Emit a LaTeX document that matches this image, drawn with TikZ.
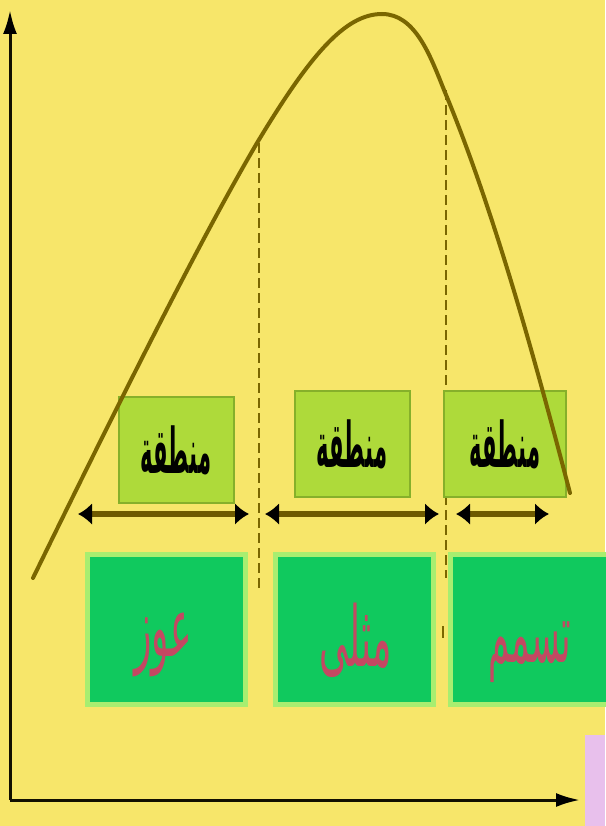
\documentclass[tikz,border=0pt]{standalone}
\usepackage{fontspec}
\usepackage{graphicx}
\usetikzlibrary{arrows.meta}
\TeXXeTstate=1
\newfontfamily\arabicfont[Script=Arabic]{DejaVu Sans}
\definecolor{bgyellow}{HTML}{F7E66A}
\definecolor{curvecol}{HTML}{7A6600}
\definecolor{zonefill}{HTML}{AEDA3A}
\definecolor{zoneedge}{HTML}{86B02A}
\definecolor{boxfill}{HTML}{10C95E}
\definecolor{boxedge}{HTML}{A8EE70}
\definecolor{wordred}{HTML}{C44862}
\definecolor{arrowcol}{HTML}{6E5A00}
\definecolor{pinkish}{HTML}{E8C0EC}
\newcommand{\zonetext}{\scalebox{0.62}[1.85]{\beginR منطقة\endR}}
\tikzset{
  zonebox/.style={draw=zoneedge, line width=2pt, fill=zonefill, minimum width=115pt, minimum height=106pt, inner sep=0pt,
    font=\arabicfont\bfseries\fontsize{34}{40}\selectfont, text=black},
  wordbox/.style={draw=boxedge, line width=5pt, fill=boxfill, minimum width=158pt, minimum height=150pt, inner sep=0pt},
  wordtext/.style={font=\arabicfont\fontsize{38}{44}\selectfont, text=wordred, inner sep=0pt},
  rangearrow/.style={draw=arrowcol, line width=6pt, {Latex[length=14pt,width=22pt,color=black]}-{Latex[length=14pt,width=22pt,color=black]}},
  axis/.style={draw=black!85!curvecol, line width=3pt, -{Latex[length=24pt,width=14pt,color=black]}},
  dashline/.style={draw=curvecol, line width=2pt, dash pattern=on 10pt off 5pt},
}
\begin{document}
\begin{tikzpicture}[x=1pt,y=-1pt]
\useasboundingbox (0,0) rectangle (605,826);
\fill[bgyellow] (0,0) rectangle (605,826);
\fill[pinkish] (585,735) rectangle (605,826);
% axes
\coordinate (O) at (10,800);
\coordinate (Ytop) at (10,10);
\coordinate (Xend) at (580,800);
\draw[axis] (O) -- (Ytop);
\draw[axis] (O) -- (Xend);
% dashed lines
\coordinate (d1t) at (259,143);
\coordinate (d1b) at (259,590);
\coordinate (d2t) at (446,90);
\coordinate (d2b) at (446,578);
\coordinate (d3t) at (443,626);
\coordinate (d3b) at (443,638);
\draw[dashline] (d1t) -- (d1b);
\draw[dashline] (d2t) -- (d2b);
\draw[draw=curvecol, line width=2.5pt] (d3t) -- (d3b);
% zone boxes
\node[zonebox] (z1) at (176,450) {\zonetext};
\node[zonebox] (z2) at (352,444) {\zonetext};
\node[zonebox, minimum width=122pt] (z3) at (505,444) {\zonetext};
% curve
\coordinate (c0) at (33,578);
\coordinate (c1) at (257,143);
\coordinate (c2) at (382,14);
\coordinate (c3) at (444,90);
\coordinate (c4) at (570,493);
\draw[curvecol, line width=4pt, line cap=round]
  (c0) .. controls (120,400) and (200,240) .. (c1)
       .. controls (310,55) and (345,14) .. (c2)
       .. controls (415,14) and (430,55) .. (c3)
       .. controls (490,200) and (530,340) .. (c4);
% range arrows
\coordinate (a1l) at (78,514); \coordinate (a1r) at (249,514);
\coordinate (a2l) at (265,514); \coordinate (a2r) at (439,514);
\coordinate (a3l) at (456,514); \coordinate (a3r) at (549,514);
\draw[rangearrow] (a1l) -- (a1r);
\draw[rangearrow] (a2l) -- (a2r);
\draw[rangearrow] (a3l) -- (a3r);
% word boxes
\node[wordbox] (b1) at (166,629) {};
\node[wordbox] (b2) at (354,629) {};
\node[wordbox, minimum width=160pt] (b3) at (530,629) {};
\node[wordtext] (w1) at (163,645) {\scalebox{0.95}[2.2]{\beginR عوز\endR}};
\node[wordtext] (w2) at (356,640) {\scalebox{0.95}[2.2]{\beginR مثلى\endR}};
\node[wordtext] (w3) at (530,652) {\scalebox{0.9}[2.2]{\beginR تسمم\endR}};
\end{tikzpicture}
\end{document}
